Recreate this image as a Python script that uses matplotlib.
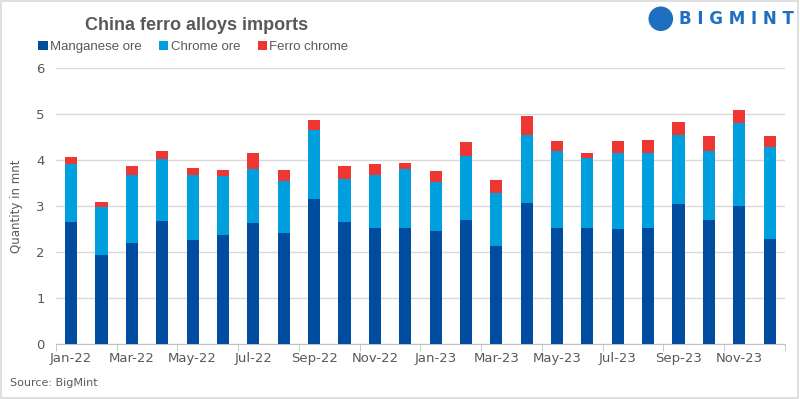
import matplotlib

matplotlib.use("Agg")
import matplotlib.pyplot as plt
import numpy as np
from matplotlib.patches import Ellipse, Rectangle

months = [
    "Jan-22", "Feb-22", "Mar-22", "Apr-22", "May-22", "Jun-22",
    "Jul-22", "Aug-22", "Sep-22", "Oct-22", "Nov-22", "Dec-22",
    "Jan-23", "Feb-23", "Mar-23", "Apr-23", "May-23", "Jun-23",
    "Jul-23", "Aug-23", "Sep-23", "Oct-23", "Nov-23", "Dec-23",
]
manganese = [2.66, 1.94, 2.20, 2.68, 2.25, 2.36, 2.62, 2.40, 3.14, 2.64, 2.53, 2.51,
             2.46, 2.70, 2.12, 3.07, 2.53, 2.51, 2.49, 2.53, 3.05, 2.70, 2.99, 2.29]
chrome = [1.24, 1.03, 1.48, 1.33, 1.43, 1.28, 1.19, 1.15, 1.50, 0.95, 1.15, 1.30,
          1.05, 1.39, 1.15, 1.48, 1.67, 1.52, 1.67, 1.63, 1.49, 1.49, 1.81, 2.00]
ferro_chrome = [0.17, 0.12, 0.18, 0.19, 0.15, 0.13, 0.33, 0.24, 0.22, 0.27, 0.22, 0.13,
                0.24, 0.29, 0.30, 0.41, 0.22, 0.13, 0.26, 0.28, 0.29, 0.32, 0.29, 0.22]

MN_C = "#004C9F"
CR_C = "#00A0DF"
FC_C = "#EE3733"
TXT = "#595959"
LOGO_C = "#1E6FBF"

fig = plt.figure(figsize=(8, 3.99), dpi=100)
ax = fig.add_axes([0.07, 0.138, 0.911, 0.692])

x = np.arange(len(months))
w = 0.4
mn = np.array(manganese)
cr = np.array(chrome)
fc = np.array(ferro_chrome)
ax.bar(x, mn, w, color=MN_C, label="Manganese ore", zorder=3)
ax.bar(x, cr, w, bottom=mn, color=CR_C, label="Chrome ore", zorder=3)
ax.bar(x, fc, w, bottom=mn + cr, color=FC_C, label="Ferro chrome", zorder=3)

ax.set_xlim(-0.5, len(months) - 0.5)
ax.set_ylim(0, 6)
ax.set_yticks(range(0, 7))
ax.yaxis.grid(True, color="#D9D9D9", linewidth=1, zorder=0)
ax.set_xticks(x[::2])
ax.set_xticklabels(months[::2])
ax.set_xticks(np.arange(-0.5, len(months), 2), minor=True)
ax.tick_params(axis="x", which="major", length=0, pad=6, labelsize=9.5, labelcolor=TXT)
ax.tick_params(axis="x", which="minor", length=5, color="#BFBFBF")
ax.tick_params(axis="y", length=0, labelsize=9.5, labelcolor=TXT, pad=8)
for side in ["top", "right", "left"]:
    ax.spines[side].set_visible(False)
ax.spines["bottom"].set_color("#BFBFBF")
ax.set_ylabel("Quantity in mnt", fontsize=8.5, color=TXT, labelpad=10)

fig.text(0.106, 0.935, "China ferro alloys imports", fontsize=13, fontweight="bold",
         color=TXT, va="center", family="Liberation Sans")
fig.legend(loc="center left", bbox_to_anchor=(0.033, 0.882), ncol=3, frameon=False,
           prop={"family": "Liberation Sans", "size": 9.5},
           handlelength=0.7, handleheight=0.7, handletextpad=0.2,
           columnspacing=1.3, labelcolor=TXT)
fig.text(0.013, 0.04, "Source: BigMint", fontsize=8, color=TXT, va="center")

# logo
fig.patches.append(Ellipse((0.826, 0.953), 0.029, 0.058, transform=fig.transFigure,
                           color=LOGO_C, zorder=5))
fig.text(0.849, 0.953, "B I G M I N T", fontsize=12, fontweight="bold", color=LOGO_C,
         va="center")

# outer border
fig.patches.append(Rectangle((0.001, 0.002), 0.997, 0.996, transform=fig.transFigure,
                             fill=False, edgecolor="#D9D9D9", linewidth=1.2))

fig.savefig("out.png", dpi=100)
